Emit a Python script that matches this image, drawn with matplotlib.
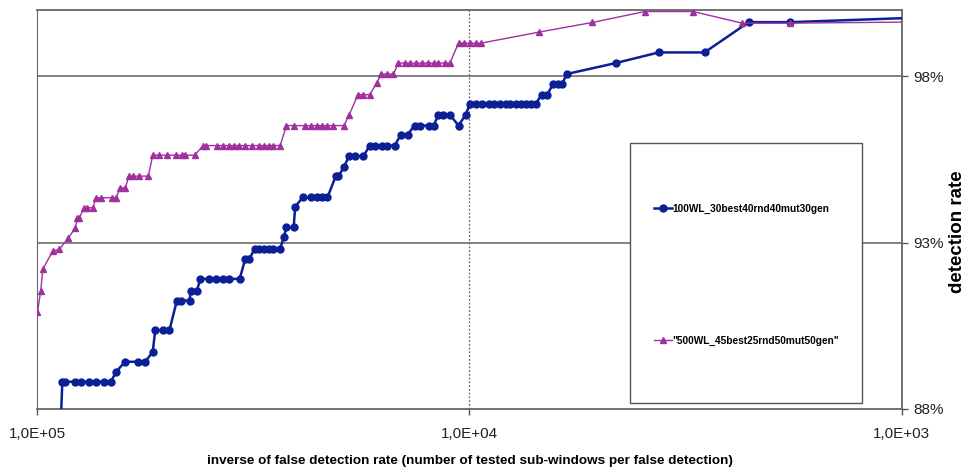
import matplotlib
matplotlib.use("Agg")
import matplotlib.pyplot as plt
from matplotlib.patches import Rectangle
from matplotlib.ticker import FixedLocator, NullLocator

# inverse of false detection rate (x) and detection rate in % (y)
x_100wl = [88500, 87400, 86100, 81700, 79200, 76000, 73000, 70000, 67500, 65600,
           62600, 58300, 56200, 54000, 53300, 51200, 49400, 47500, 46500, 44400,
           44100, 42700, 41900, 40100, 38500, 37200, 35900, 34000, 33000, 32300,
           31400, 30600, 29900, 29100, 28400, 27400, 26900, 26500, 25500, 25300,
           24300, 23300, 22500, 21900, 21300, 20400, 20100, 19500, 19000, 18400,
           17600, 17000, 16500, 15900, 15500, 14900, 14400, 13900, 13400, 13000,
           12400, 12100, 11800, 11500, 11100, 10600, 10200, 9980, 9680, 9350,
           9020, 8780, 8480, 8250, 8040, 7820, 7620, 7420, 7220, 7030,
           6810, 6610, 6400, 6250, 6100, 5960, 4590, 3650, 2860, 2260,
           1810, 700]
y_100wl = [87.0, 88.82, 88.82, 88.82, 88.82, 88.82, 88.82, 88.82, 88.82, 89.12,
           89.42, 89.42, 89.42, 89.72, 90.37, 90.37, 90.37, 91.26, 91.26, 91.26,
           91.56, 91.56, 91.91, 91.91, 91.91, 91.91, 91.91, 91.91, 92.51, 92.51,
           92.81, 92.81, 92.81, 92.81, 92.81, 92.81, 93.16, 93.46, 93.46, 94.08,
           94.36, 94.36, 94.36, 94.36, 94.36, 94.99, 94.99, 95.28, 95.6, 95.6,
           95.6, 95.92, 95.92, 95.92, 95.92, 95.92, 96.25, 96.25, 96.52, 96.52,
           96.52, 96.52, 96.85, 96.85, 96.85, 96.52, 96.85, 97.17, 97.17, 97.17,
           97.17, 97.17, 97.17, 97.17, 97.17, 97.17, 97.17, 97.17, 97.17, 97.17,
           97.45, 97.45, 97.78, 97.78, 97.78, 98.07, 98.4, 98.72, 98.72, 99.63,
           99.63, 99.82]

x_500wl = [99800, 98050, 97000, 92000, 88800, 84600, 81500, 80700, 79800, 77800,
           76500, 74300, 73000, 71200, 67200, 65600, 64300, 62500, 61300, 59900,
           58000, 55300, 54000, 52100, 50100, 47800, 46200, 45400, 43200, 41300,
           40600, 38400, 37200, 36000, 35000, 34100, 33000, 31800, 30700, 29900,
           29100, 28400, 27400, 26500, 25500, 24000, 23200, 22500, 21900, 21300,
           20700, 19500, 19000, 18100, 17600, 17000, 16400, 16000, 15500, 15000,
           14600, 14100, 13700, 13300, 12900, 12500, 12100, 11800, 11400, 11100,
           10600, 10300, 9980, 9680, 9390, 6910, 5200, 3930, 3040, 2340,
           1810, 700]
y_500wl = [90.91, 91.55, 92.2, 92.75, 92.8, 93.15, 93.45, 93.75, 93.75, 94.05,
           94.05, 94.05, 94.35, 94.35, 94.35, 94.35, 94.65, 94.65, 95.0, 95.0,
           95.0, 95.0, 95.63, 95.63, 95.63, 95.63, 95.63, 95.63, 95.63, 95.92,
           95.92, 95.92, 95.92, 95.92, 95.92, 95.92, 95.92, 95.92, 95.92, 95.92,
           95.92, 95.92, 95.92, 96.52, 96.52, 96.52, 96.52, 96.52, 96.52, 96.52,
           96.52, 96.52, 96.83, 97.45, 97.45, 97.45, 97.8, 98.07, 98.07, 98.07,
           98.4, 98.4, 98.4, 98.4, 98.4, 98.4, 98.4, 98.4, 98.4, 98.4,
           99.0, 99.0, 99.0, 99.0, 99.0, 99.33, 99.62, 99.95, 99.95, 99.6,
           99.6, 99.65]

label_100wl = "100WL_30best40rnd40mut30gen"
label_500wl = "\"500WL_45best25rnd50mut50gen\""
x_ticks = [1e5, 1e4, 1e3]
x_ticklabels = ["1,0E+05", "1,0E+04", "1,0E+03"]
y_ticks = [88, 93, 98]
y_ticklabels = ["88%", "93%", "98%"]

plt.rcParams['font.family'] = ['Liberation Sans', 'DejaVu Sans']

fig = plt.figure(figsize=(9.75, 4.69), dpi=100)
ax = fig.add_axes([0.038, 0.128, 0.887, 0.851])

blue = '#0b1f96'
magenta = '#a0309e'

ax.plot(x_100wl, y_100wl, color=blue, lw=1.8, marker='o', ms=5,
        label=label_100wl, zorder=3)
ax.plot(x_500wl, y_500wl, color=magenta, lw=1.0, marker='^', ms=5,
        label=label_500wl, zorder=3)

ax.set_xscale('log')
ax.set_xlim(1e5, 1e3)
ax.set_ylim(88, 100)

ax.xaxis.set_major_locator(FixedLocator(x_ticks))
ax.xaxis.set_minor_locator(NullLocator())
ax.set_xticklabels(x_ticklabels, fontsize=11, color='#222222')
ax.yaxis.tick_right()
ax.set_yticks(y_ticks)
ax.set_yticklabels(y_ticklabels, fontsize=11, color='#222222')
ax.tick_params(axis='both', length=4, width=1, color='#555555')
ax.tick_params(axis='x', pad=9)
ax.tick_params(axis='y', pad=4)

# grid: solid horizontal lines, dotted vertical line at 1E+04
for yv in y_ticks[1:]:
    ax.axhline(yv, color='#777777', lw=1.3, zorder=1)
ax.axvline(1e4, color='#666666', lw=0.9, ls=(0, (1.5, 1.5)), zorder=1)

for s in ['top', 'bottom', 'right']:
    ax.spines[s].set_color('#666666')
    ax.spines[s].set_linewidth(1.3)
ax.spines['left'].set_color('#666666')
ax.spines['left'].set_linestyle((0, (2, 1)))

ax.set_xlabel('inverse of false detection rate (number of tested sub-windows per false detection)',
              fontsize=9.7, fontweight='bold', labelpad=10)
fig.text(958 / 975, 0.507, 'detection rate', rotation=90, ha='center', va='center',
         fontsize=13.5, fontweight='bold')

# legend box
ax.add_patch(Rectangle((0.686, 0.015), 0.268, 0.652, transform=ax.transAxes,
                       facecolor='white', edgecolor='#555555', lw=1.0, zorder=4))
leg = ax.legend(loc='upper left', bbox_to_anchor=(0.709, 0.524), frameon=False,
                fontsize=7.3, handlelength=1.7, handletextpad=0.1,
                labelspacing=12.0, borderaxespad=0)
for t in leg.get_texts():
    t.set_fontweight('bold')
leg.set_zorder(5)

fig.savefig('out.png', dpi=100)
